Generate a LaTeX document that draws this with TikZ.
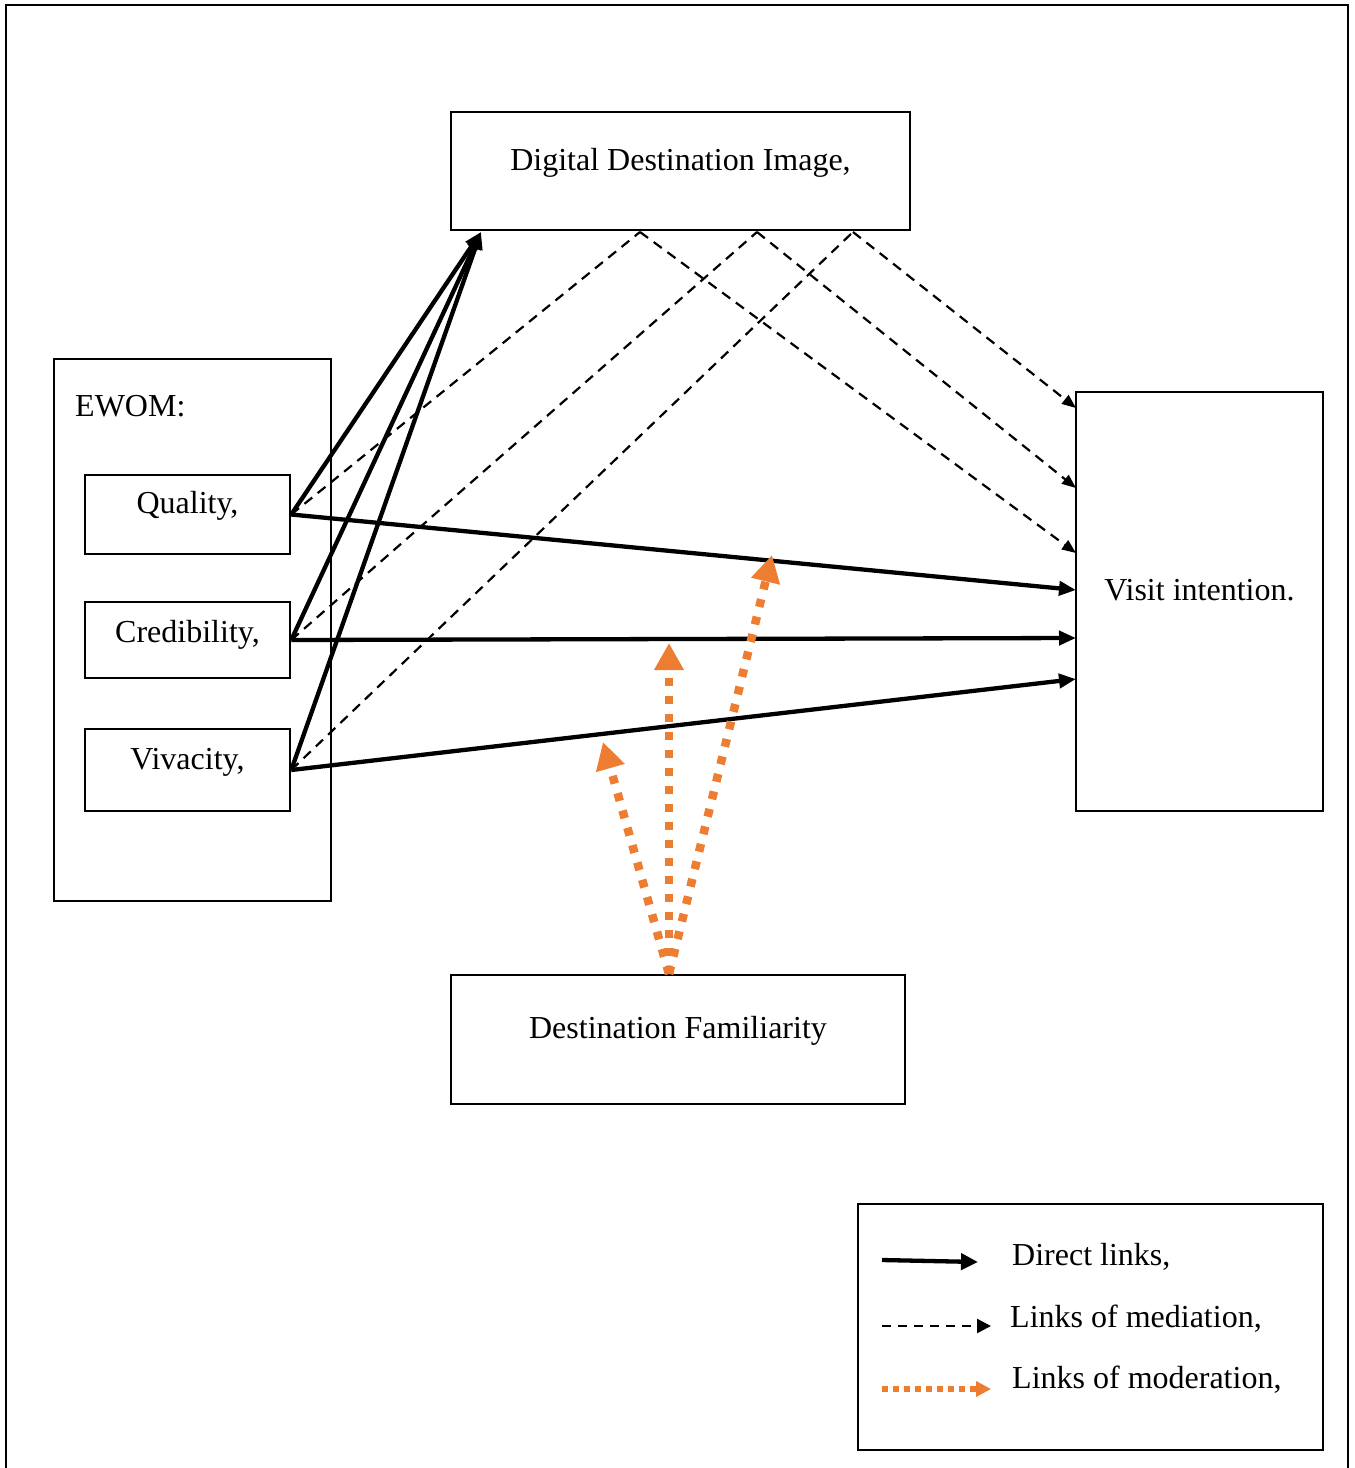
\documentclass[tikz,border=0pt]{standalone}
\usepackage{fontspec}
\setmainfont{Liberation Serif}
\usetikzlibrary{arrows.meta}
\definecolor{orng}{RGB}{237,125,49}
\begin{document}
\begin{tikzpicture}[x=1pt,y=-1pt,
  box/.style={draw,line width=2.5pt,inner sep=0pt,font=\fontsize{32}{38}\selectfont,text height=22pt,text depth=24pt},
  lbl/.style={inner sep=0pt,font=\fontsize{32}{38}\selectfont,anchor=base west},
  direct/.style={line width=4.3pt,-{Triangle[length=17pt,width=14pt]}},
  med/.style={line width=2.2pt,dash pattern=on 10pt off 7pt},
  medarr/.style={med,-{Triangle[length=14pt,width=11pt]}},
  moder/.style={draw=orng,line width=8.5pt,dash pattern=on 8pt off 10pt,-{Triangle[length=27pt,width=28pt,fill=orng]}},
  ldirect/.style={line width=4.3pt,-{Triangle[length=17pt,width=16pt]}},
  lmed/.style={line width=2.5pt,dash pattern=on 9pt off 7pt,-{Triangle[length=14pt,width=14pt]}},
  lmoder/.style={draw=orng,line width=6pt,dash pattern=on 6pt off 5pt,-{Triangle[length=15pt,width=15pt,fill=orng]}},
]
\useasboundingbox (0,0) rectangle (1355,1468);
% outer frame
\draw[line width=2pt] (6,1470) -- (6,5) -- (1348,5) -- (1348,1470);

% boxes
\node[box,minimum width=459pt,minimum height=118pt] (ddi) at (680.5,171) {Digital Destination Image,};
\node[box,minimum width=277pt,minimum height=542pt] (ewom) at (192.5,630) {};
\node[lbl] (ewomlbl) at (75,416) {EWOM:};
\node[box,minimum width=205pt,minimum height=79pt] (qual) at (187.5,514.5) {Quality,};
\node[box,minimum width=205pt,minimum height=76pt] (cred) at (187.5,640) {\raisebox{-3pt}{Credibility,}};
\node[box,minimum width=205pt,minimum height=82pt] (viv) at (187.5,770) {Vivacity,};
\node[box,minimum width=247pt,minimum height=419pt] (visit) at (1199.5,601.5) {Visit intention.};
\node[box,minimum width=454pt,minimum height=129pt] (fam) at (678,1039.5) {Destination Familiarity};
\node[box,minimum width=465pt,minimum height=246pt] (legend) at (1090.5,1327) {};

% connection points
\coordinate (dtip) at (481,232);
\coordinate (dm1) at (640,232);
\coordinate (dm2) at (757,232);
\coordinate (dm3) at (853,232);
\coordinate (vq) at (1076,590);
\coordinate (vc) at (1076,638);
\coordinate (vv) at (1076,679);
\coordinate (vm1) at (1076,553);
\coordinate (vm2) at (1076,488);
\coordinate (vm3) at (1076,408);
\coordinate (fo) at (669,974);
\coordinate (ot1) at (603,742);
\coordinate (ot2) at (669,643);
\coordinate (ot3) at (772,555);

% mediation links
\draw[med] (qual.east) -- (dm1);
\draw[med] (cred.east) -- (dm2);
\draw[med] (viv.east) -- (dm3);
\draw[medarr] (dm1) -- (vm1);
\draw[medarr] (dm2) -- (vm2);
\draw[medarr] (dm3) -- (vm3);

% direct links
\draw[direct] (qual.east) -- (dtip);
\draw[direct] (cred.east) -- (dtip);
\draw[direct] (viv.east) -- (dtip);
\draw[direct] (qual.east) -- (vq);
\draw[direct] (cred.east) -- (vc);
\draw[direct] (viv.east) -- (vv);

% moderation links
\draw[moder] (fo) -- (ot1);
\draw[moder] (fo) -- (ot2);
\draw[moder] (fo) -- (ot3);

% legend
\coordinate (l1a) at (882,1260);
\coordinate (l1b) at (978,1262);
\coordinate (l2a) at (882,1326);
\coordinate (l2b) at (991,1326);
\coordinate (l3a) at (882,1389);
\coordinate (l3b) at (991,1389);
\draw[ldirect] (l1a) -- (l1b);
\draw[lmed] (l2a) -- (l2b);
\draw[lmoder] (l3a) -- (l3b);
\node[lbl] (t1) at (1012,1265) {Direct links,};
\node[lbl] (t2) at (1010,1327) {Links of mediation,};
\node[lbl] (t3) at (1012,1388) {Links of moderation,};
\end{tikzpicture}
\end{document}
